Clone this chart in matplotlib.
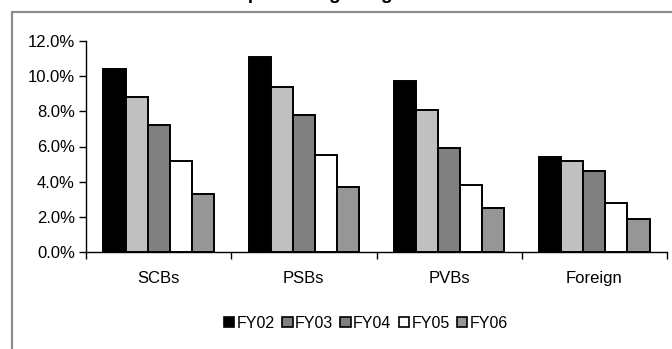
import matplotlib
matplotlib.use("Agg")
import matplotlib.pyplot as plt
import matplotlib.patches as patches
import numpy as np

plt.rcParams['font.family'] = ['Liberation Sans', 'DejaVu Sans']

# data
categories = ["SCBs", "PSBs", "PVBs", "Foreign"]
years = ["FY02", "FY03", "FY04", "FY05", "FY06"]
fy02 = [10.4, 11.1, 9.7, 5.4]
fy03 = [8.8, 9.4, 8.1, 5.2]
fy04 = [7.2, 7.8, 5.9, 4.6]
fy05 = [5.2, 5.5, 3.8, 2.8]
fy06 = [3.3, 3.7, 2.5, 1.9]
y_ticks = [0, 2, 4, 6, 8, 10, 12]

series = [fy02, fy03, fy04, fy05, fy06]
bar_colors = ["#000000", "#c0c0c0", "#808080", "#ffffff", "#969696"]
legend_colors = ["#000000", "#808080", "#808080", "#ffffff", "#969696"]

fig = plt.figure(figsize=(6.72, 3.49), dpi=100)
ax = fig.add_axes([86 / 672, 1 - 252 / 349, (667 - 86) / 672, (252 - 41) / 349])

# gray chart frame, partly outside the picture
frame = patches.Rectangle((12 / 672, -0.2), 1.2, 1 - 12 / 349 + 0.2,
                          transform=fig.transFigure, fill=False,
                          edgecolor="#8c8c8c", linewidth=1.6, clip_on=False)
fig.patches.append(frame)

# title is cut by the top edge, as in the source
fig.text(0.47, 1 + 0.5 / 349, "Gross NPAs as percentage of gross advances",
         ha="center", va="baseline", fontsize=14, fontweight="bold")

x = np.arange(len(categories))
w = 0.152
for i, vals in enumerate(series):
    ax.bar(x + (i - 2) * w, vals, w, color=bar_colors[i],
           edgecolor="black", linewidth=1.4, zorder=3)

ax.set_xlim(-0.5, 3.5)
ax.set_ylim(0, 12)
ax.set_yticks(y_ticks)
ax.set_yticklabels([f"{v:.1f}%" for v in y_ticks], fontsize=12)
ax.set_xticks(x)
ax.set_xticklabels(categories, fontsize=12)
ax.set_xticks(np.arange(-0.5, 4.0, 1.0), minor=True)
ax.tick_params(axis="x", which="major", length=0, pad=14)
ax.tick_params(axis="x", which="minor", length=5, width=1, direction="out")
ax.tick_params(axis="y", length=5, width=1, direction="out", pad=3)

for s in ["top", "right"]:
    ax.spines[s].set_visible(False)
for s in ["left", "bottom"]:
    ax.spines[s].set_linewidth(1)

handles = [patches.Patch(facecolor=c, edgecolor="black", linewidth=1.2)
           for c in legend_colors]
fig.legend(handles, years, loc="center", bbox_to_anchor=(366 / 672, 1 - 323 / 349),
           ncol=5, frameon=False, fontsize=11.5, handlelength=0.65, handleheight=0.65,
           handletextpad=0.15, columnspacing=0.45)

fig.savefig("out.png", dpi=100)
